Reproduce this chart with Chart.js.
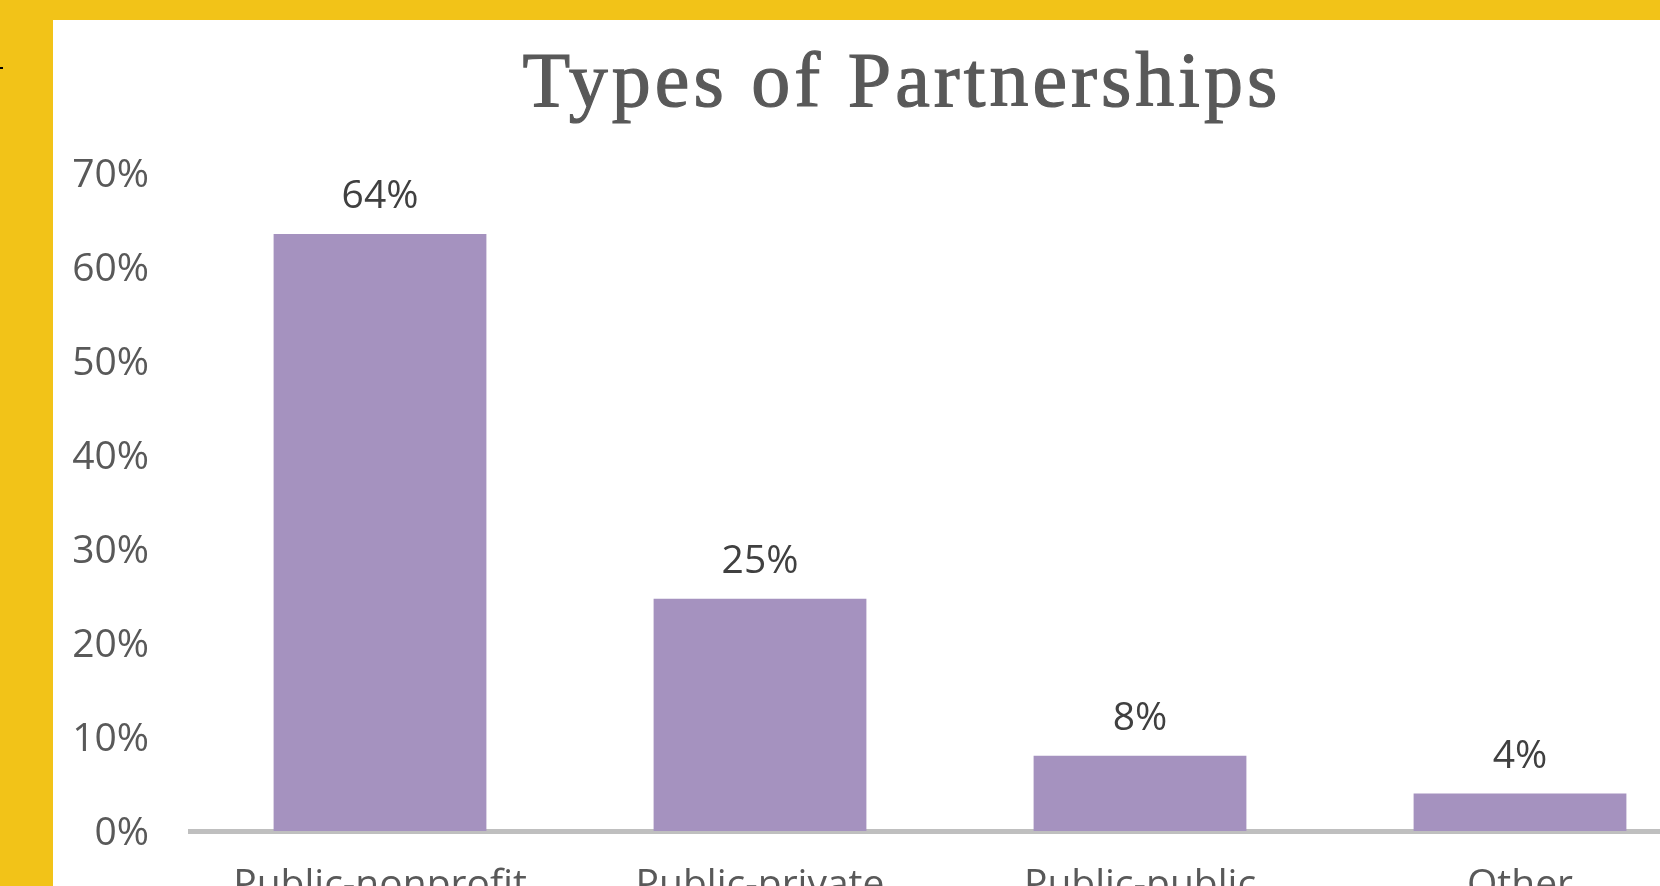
<!DOCTYPE html>
<html>
<head>
<meta charset="utf-8">
<script src="https://cdn.jsdelivr.net/npm/chart.js@4"></script>
<style>
  html, body { margin: 0; padding: 0; width: 1660px; height: 886px; overflow: hidden; background: #F2C318; }
  #panel { position: absolute; left: 53px; top: 20px; width: 1607px; height: 866px; background: #FFFFFF; overflow: hidden; }
  #c { position: absolute; left: 0; top: 0; }
  #mark { position: absolute; left: 0; top: 67px; width: 3px; height: 2px; background: #000; }
</style>
</head>
<body>
<div id="mark"></div>
<div id="panel"><canvas id="c" width="1694" height="960"></canvas></div>
<script>
const categories = ["Public-nonprofit", "Public-private", "Public-public", "Other"];
const shares = [0.635, 0.247, 0.08, 0.04];
const yTicks = [0, 0.1, 0.2, 0.3, 0.4, 0.5, 0.6, 0.7];
const chartTitle = "Types of Partnerships";

const pct = v => Math.round(v * 100) + "%";

const titlePlugin = {
  id: "spacedTitle",
  afterDraw(chart) {
    const ctx = chart.ctx;
    ctx.save();
    ctx.font = "78px 'Liberation Serif'";
    ctx.letterSpacing = "4px";
    ctx.fillStyle = "#595959";
    ctx.strokeStyle = "#595959";
    ctx.lineWidth = 1.2;
    ctx.textAlign = "center";
    ctx.textBaseline = "alphabetic";
    const x = chart.width / 2 + 2;
    const y = 86;
    ctx.fillText(chartTitle, x, y);
    ctx.strokeText(chartTitle, x, y);
    ctx.restore();
  }
};

const valueLabels = {
  id: "valueLabels",
  afterDatasetsDraw(chart) {
    const ctx = chart.ctx;
    const meta = chart.getDatasetMeta(0);
    ctx.save();
    ctx.font = "39px 'Open Sans'";
    ctx.fillStyle = "#404040";
    ctx.textAlign = "center";
    ctx.textBaseline = "middle";
    meta.data.forEach((bar, i) => {
      ctx.fillText(pct(shares[i]), bar.x, bar.y - 37);
    });
    ctx.restore();
  }
};

new Chart(document.getElementById("c"), {
  type: "bar",
  data: {
    labels: categories,
    datasets: [{
      data: shares,
      backgroundColor: "#A592BF",
      borderWidth: 0,
      barPercentage: 0.56,
      categoryPercentage: 1.0
    }]
  },
  options: {
    responsive: false,
    animation: false,
    devicePixelRatio: 1,
    layout: { padding: { top: 153, left: 0, right: 37, bottom: 0 } },
    plugins: {
      legend: { display: false },
      tooltip: { enabled: false },
      title: { display: false }
    },
    scales: {
      x: {
        grid: { display: false },
        border: { display: true, color: "#BFBFBF", width: 5 },
        ticks: { color: "#595959", font: { family: "'Open Sans'", size: 39 }, padding: 23, maxRotation: 0, autoSkip: false },
        afterFit(scale) { scale.height = 149; }
      },
      y: {
        min: 0,
        max: 0.7,
        afterBuildTicks(scale) { scale.ticks = yTicks.map(v => ({ value: v })); },
        grid: { display: false },
        border: { display: false },
        ticks: { color: "#595959", font: { family: "'Open Sans'", size: 39 }, padding: 33, labelOffset: 3, callback: v => pct(v) },
        afterFit(scale) { scale.width = 137; }
      }
    }
  },
  plugins: [valueLabels, titlePlugin]
});
</script>
</body>
</html>
